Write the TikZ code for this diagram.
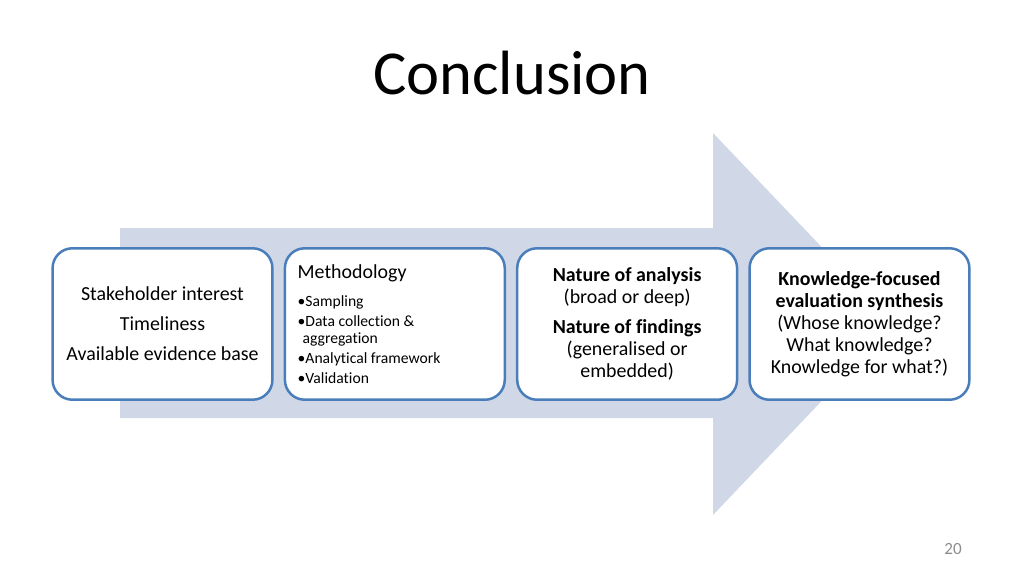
\documentclass[tikz,border=0pt]{standalone}
\usepackage{fontspec}
\setmainfont{Carlito}[Ligatures=NoCommon]
\usepackage{xcolor}
\usepackage{tikz}
\usetikzlibrary{positioning}

\definecolor{arrowfill}{HTML}{D0D8E8}
\definecolor{boxline}{HTML}{4A7EBB}
\definecolor{pagegrey}{HTML}{8C8C8C}

\begin{document}
\begin{tikzpicture}[
        x=0.703125pt, y=-0.703125pt,
        node distance=7pt,
        box/.style={rectangle, rounded corners=14pt, draw=boxline, line width=1.75pt, fill=white, minimum width=154.6pt, minimum height=106.5pt, align=center, font=\fontsize{14}{15.5}\selectfont},
        listbox/.style={box, align=flush left, text width=136.6pt, inner xsep=9pt, font=\fontsize{11}{14}\selectfont},
        bigarrow/.style={fill=arrowfill, draw=none}
    ]
    \useasboundingbox (0,0) rectangle (1024,576);

    \fill[bigarrow] (120,228) -- (713,228) -- (713,133) -- (895,324) -- (713,515) -- (713,418) -- (120,418) -- cycle;

    \node[anchor=base, font=\fontsize{44}{50}\selectfont] (title) at (512,94) {Conclusion};

    \node[box] (context) at (162.5,324) {Stakeholder interest\\[5.5pt] Timeliness\\[5.5pt] Available evidence base};
    \node[listbox, right=of context] (method) {{\fontsize{14}{14}\selectfont Methodology}\\[5.7pt] \textbullet Sampling\\ \textbullet Data collection \&\\[-2pt] \hspace*{3.5pt}aggregation\\ \textbullet Analytical framework\\ \textbullet Validation};
    \node[box, right=of method] (nature) {\textbf{Nature of analysis}\\ (broad or deep)\\[5.6pt] \textbf{Nature of findings}\\ (generalised or\\ embedded)};
    \node[box, right=of nature] (synthesis) {\textbf{Knowledge-focused}\\ \textbf{evaluation synthesis}\\ (Whose knowledge?\\ What knowledge?\\ Knowledge for what?)};

    \node[font=\fontsize{12}{14}\selectfont, text=pagegrey] (pagenum) at (953,549) {20};
\end{tikzpicture}
\end{document}
